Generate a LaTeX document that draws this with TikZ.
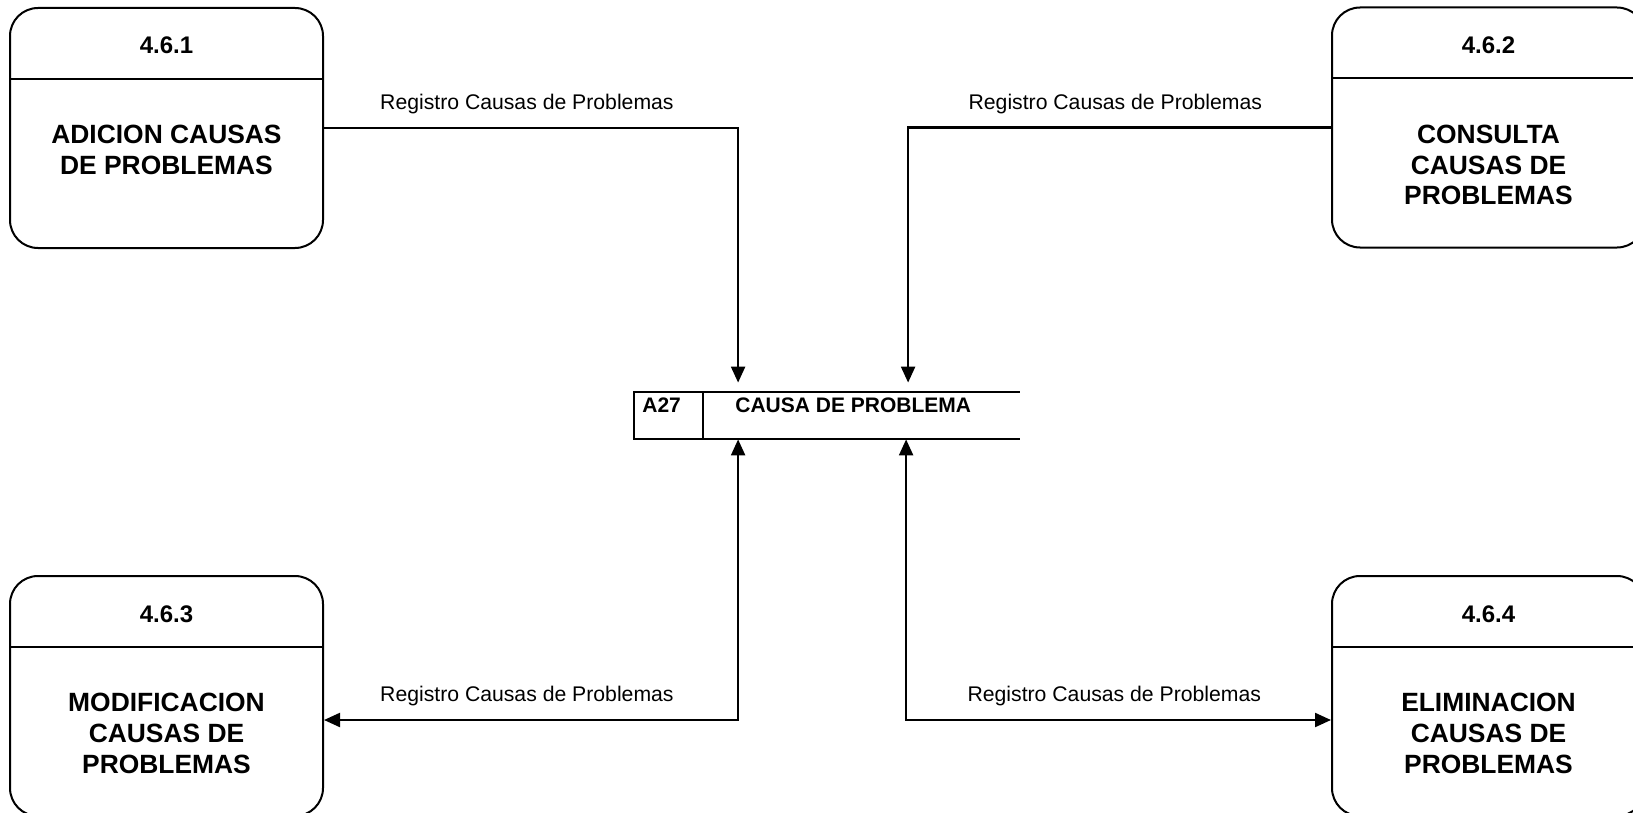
\documentclass[tikz,border=0pt]{standalone}
\usepackage{fontspec}
\setmainfont{Liberation Sans}
\usetikzlibrary{arrows.meta,positioning,calc}

\begin{document}
\begin{tikzpicture}[
    x=0.5pt, y=-0.5pt,
    process/.style={draw, rectangle, rounded corners=14pt, line width=1pt, minimum width=156.5pt, minimum height=120pt, inner sep=0pt},
    ptitle/.style={anchor=base, inner sep=0pt, font=\fontsize{12}{14}\selectfont\bfseries},
    pname/.style={anchor=north, align=center, inner sep=0pt, font=\fontsize{13.2}{15.4}\selectfont\bfseries},
    divider/.style={line width=1pt},
    store/.style={rectangle, minimum width=192.5pt, minimum height=23.5pt, inner sep=0pt},
    storetext/.style={anchor=base west, inner sep=0pt, font=\fontsize{10.5}{12}\selectfont\bfseries},
    flowlabel/.style={font=\fontsize{10.6}{12}\selectfont},
    arrow/.style={-{Triangle[length=8pt, width=7pt]}, line width=1.1pt},
    twoway/.style={{Triangle[length=8pt, width=7pt]}-{Triangle[length=8pt, width=7pt]}, line width=1.1pt}
  ]
    \clip (0,0) rectangle (1633,813);

    \node (adicion) [process] at (166.5,128) {};
    \node (consulta) [process] at (1488.5,127.5) {};
    \node (modif) [process] at (166.5,696) {};
    \node (elimin) [process] at (1488.5,696) {};

    \draw [divider] ($(adicion.north west)+(0,72)$) -- ($(adicion.north east)+(0,72)$);
    \draw [divider] ($(consulta.north west)+(0,72)$) -- ($(consulta.north east)+(0,72)$);
    \draw [divider] ($(modif.north west)+(0,72)$) -- ($(modif.north east)+(0,72)$);
    \draw [divider] ($(elimin.north west)+(0,72)$) -- ($(elimin.north east)+(0,72)$);

    \node (adicionnum) [ptitle] at ($(adicion.north)+(0,47)$) {4.6.1};
    \node (consultanum) [ptitle] at ($(consulta.north)+(0,47)$) {4.6.2};
    \node (modifnum) [ptitle] at ($(modif.north)+(0,47)$) {4.6.3};
    \node (eliminnum) [ptitle] at ($(elimin.north)+(0,47)$) {4.6.4};

    \node (adiciontxt) [pname] at ($(adicion.north)+(0,118)$) {ADICION CAUSAS\\DE PROBLEMAS};
    \node (consultatxt) [pname] at ($(consulta.north)+(0,118)$) {CONSULTA\\CAUSAS DE\\PROBLEMAS};
    \node (modiftxt) [pname] at ($(modif.north)+(0,118)$) {MODIFICACION\\CAUSAS DE\\PROBLEMAS};
    \node (elimintxt) [pname] at ($(elimin.north)+(0,118)$) {ELIMINACION\\CAUSAS DE\\PROBLEMAS};

    \node (causa) [store] at (827,415.5) {};
    \draw [divider] (causa.north east) -- (causa.north west) -- (causa.south west) -- (causa.south east);
    \draw [divider] ([xshift=34.5pt]causa.north west) -- ([xshift=34.5pt]causa.south west);
    \node (causaid) [storetext] at (642,412) {A27};
    \node (causaname) [storetext] at (735,412) {CAUSA DE PROBLEMA};

    \draw [arrow, shorten >=4.5pt] (adicion.east) -| ([xshift=52pt]causa.north west)
      node [flowlabel, pos=0.245, above=3pt] {Registro Causas de Problemas};
    \draw [arrow, shorten >=4.5pt] (consulta.west) -| ([xshift=137pt]causa.north west)
      node [flowlabel, pos=0.255, above=3pt] {Registro Causas de Problemas};
    \draw [twoway] ([xshift=52pt]causa.south west) |- ([yshift=-12pt]modif.east)
      node [flowlabel, pos=0.755, above=3pt] {Registro Causas de Problemas};
    \draw [twoway] ([xshift=136pt]causa.south west) |- ([yshift=-12pt]elimin.west)
      node [flowlabel, pos=0.745, above=3pt] {Registro Causas de Problemas};
  \end{tikzpicture}
\end{document}
